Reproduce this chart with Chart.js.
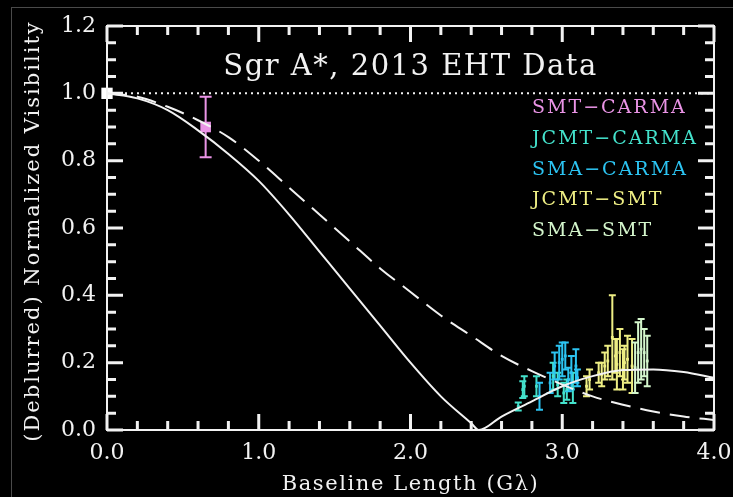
<!DOCTYPE html>
<html>
<head>
<meta charset="utf-8">
<script src="https://cdn.jsdelivr.net/npm/chart.js@4.4.1/dist/chart.umd.min.js"></script>
<style>
    html, body { margin: 0; padding: 0; background: #000; overflow: hidden; }
    #wrap { position: relative; width: 733px; height: 497px; background: #000; overflow: hidden; }
    #frame { position: absolute; left: 11px; top: 7px; width: 800px; height: 600px; border: 1px solid #4a4a4a; }
    canvas { position: absolute; left: 0; top: 0; }
</style>
</head>
<body>
<div id="wrap">
    <div id="frame"></div>
    <canvas id="chartEHT" width="733" height="497"></canvas>
</div>
<script>
// ===========================================
// Sgr A*, 2013 EHT Data - visibilidade normalizada x baseline
// ===========================================

// Modelos
const solidX = [0, 0.2, 0.4, 0.6, 0.8, 1.0, 1.2, 1.4, 1.6, 1.8, 2.0, 2.2, 2.4, 2.45, 2.6, 2.8, 3.0, 3.2, 3.4, 3.6, 3.8, 4.0];
const solidY = [1.00, 0.985, 0.95, 0.89, 0.82, 0.74, 0.64, 0.53, 0.42, 0.31, 0.20, 0.10, 0.02, 0.0, 0.04, 0.085, 0.13, 0.16, 0.178, 0.18, 0.172, 0.155];

const dashX = [0, 0.2, 0.4, 0.6, 0.8, 1.0, 1.2, 1.4, 1.6, 1.8, 2.0, 2.2, 2.4, 2.6, 2.8, 3.0, 3.2, 3.4, 3.6, 3.8, 4.0];
const dashY = [1.00, 0.99, 0.96, 0.92, 0.87, 0.80, 0.72, 0.64, 0.56, 0.48, 0.41, 0.34, 0.28, 0.22, 0.175, 0.135, 0.10, 0.075, 0.055, 0.04, 0.03];

const unityX = [0, 4.0];
const unityY = [1.0, 1.0];

// Ponto de baseline zero
const zeroX = [0];
const zeroY = [1.0];

// Dados por baseline
const smtCarmaX = [0.65];
const smtCarmaY = [0.90];
const smtCarmaErr = [0.09];

const jcmtCarmaX = [2.71, 2.74, 2.75, 2.83, 2.94, 2.97, 3.01, 3.03, 3.07];
const jcmtCarmaY = [0.07, 0.12, 0.13, 0.13, 0.16, 0.135, 0.11, 0.12, 0.125];
const jcmtCarmaErr = [0.012, 0.025, 0.03, 0.03, 0.04, 0.035, 0.03, 0.03, 0.045];

const smaCarmaX = [2.85, 2.92, 2.95, 2.98, 3.00, 3.02, 3.04, 3.06, 3.09, 3.10];
const smaCarmaY = [0.10, 0.14, 0.19, 0.20, 0.21, 0.22, 0.15, 0.17, 0.19, 0.155];
const smaCarmaErr = [0.04, 0.03, 0.04, 0.05, 0.05, 0.04, 0.035, 0.05, 0.05, 0.025];

const jcmtSmtX = [3.16, 3.18, 3.24, 3.26, 3.28, 3.30, 3.33, 3.35, 3.36, 3.38, 3.40, 3.41, 3.43, 3.46];
const jcmtSmtY = [0.13, 0.15, 0.17, 0.165, 0.19, 0.205, 0.275, 0.22, 0.195, 0.23, 0.18, 0.20, 0.21, 0.19];
const jcmtSmtErr = [0.03, 0.03, 0.03, 0.035, 0.04, 0.045, 0.125, 0.05, 0.075, 0.07, 0.06, 0.05, 0.07, 0.08];

const smaSmtX = [3.48, 3.50, 3.52, 3.54, 3.56];
const smaSmtY = [0.185, 0.23, 0.24, 0.23, 0.205];
const smaSmtErr = [0.075, 0.09, 0.09, 0.07, 0.075];

const seriesNames = ['SMT\u2212CARMA', 'JCMT\u2212CARMA', 'SMA\u2212CARMA', 'JCMT\u2212SMT', 'SMA\u2212SMT'];
const seriesColors = ['#ea94e6', '#44e2cc', '#2cc4f2', '#eeee84', '#d4f6cc'];

// ticks: principais com rótulo, secundários só marca
const xTickValues = [0, 1, 2, 3, 4];
const yTickValues = [0, 0.2, 0.4, 0.6, 0.8, 1.0, 1.2];
const xMinorTicks = [0.2, 0.4, 0.6, 0.8, 1.2, 1.4, 1.6, 1.8, 2.2, 2.4, 2.6, 2.8, 3.2, 3.4, 3.6, 3.8];
const yMinorTicks = [0.05, 0.1, 0.15, 0.25, 0.3, 0.35, 0.45, 0.5, 0.55, 0.65, 0.7, 0.75, 0.85, 0.9, 0.95, 1.05, 1.1, 1.15];

const chartTitle = 'Sgr A*, 2013 EHT Data';
const xTitle = 'Baseline Length (G\u03bb)';
const yTitle = '(Deblurred) Normalized Visibility';

const SERIF = '"DejaVu Serif", "Liberation Serif", serif';
const FG = '#f2f2f2';

const pts = (xs, ys) => xs.map((x, i) => ({ x, y: ys[i] }));

function errSet(label, xs, ys, errs, color, size) {
    return {
        label,
        data: pts(xs, ys),
        errors: errs,
        showLine: false,
        pointStyle: 'rect',
        pointRadius: size,
        backgroundColor: color,
        borderColor: color,
        borderWidth: 0,
        errColor: color
    };
}

// ============================
// Plugin: marcas dos eixos + barras de erro (antes dos datasets)
// ============================
const errorBarsPlugin = {
    id: 'errorBars',
    beforeDatasetsDraw(chart) {
        const { ctx, scales, chartArea: a } = chart;
        ctx.save();
        ctx.setLineDash([]);

        // marcas internas nos quatro lados
        ctx.strokeStyle = FG;
        ctx.lineWidth = 3;
        ctx.beginPath();
        xTickValues.concat(xMinorTicks).forEach(v => {
            const len = xTickValues.includes(v) ? 16 : 9;
            const px = scales.x.getPixelForValue(v);
            ctx.moveTo(px, a.bottom); ctx.lineTo(px, a.bottom - len);
            ctx.moveTo(px, a.top); ctx.lineTo(px, a.top + len);
        });
        yTickValues.concat(yMinorTicks).forEach(v => {
            const len = yTickValues.includes(v) ? 16 : 9;
            const py = scales.y.getPixelForValue(v);
            ctx.moveTo(a.left, py); ctx.lineTo(a.left + len, py);
            ctx.moveTo(a.right, py); ctx.lineTo(a.right - len, py);
        });
        ctx.stroke();

        chart.data.datasets.forEach(ds => {
            if (!ds.errors) return;
            ctx.strokeStyle = ds.errColor;
            ctx.lineWidth = 2;
            ds.data.forEach((p, i) => {
                const e = ds.errors[i];
                const px = scales.x.getPixelForValue(p.x);
                const top = scales.y.getPixelForValue(p.y + e);
                const bot = scales.y.getPixelForValue(p.y - e);
                const cap = ds.pointRadius > 4 ? 6 : 3.5;
                ctx.beginPath();
                ctx.moveTo(px, top); ctx.lineTo(px, bot);
                ctx.moveTo(px - cap, top); ctx.lineTo(px + cap, top);
                ctx.moveTo(px - cap, bot); ctx.lineTo(px + cap, bot);
                ctx.stroke();
            });
        });
        ctx.restore();
    }
};

// ============================
// Plugin: moldura, título, legenda e títulos dos eixos
// ============================
const frameTextPlugin = {
    id: 'frameText',
    afterDraw(chart) {
        const { ctx, chartArea: a } = chart;
        ctx.save();
        ctx.setLineDash([]);
        ctx.strokeStyle = FG;
        ctx.fillStyle = FG;
        ctx.lineWidth = 2;
        ctx.strokeRect(a.left, a.top, a.right - a.left, a.bottom - a.top);

        // título
        ctx.textBaseline = 'middle';
        ctx.textAlign = 'center';
        ctx.font = '29px ' + SERIF;
        ctx.letterSpacing = '1.5px';
        ctx.fillText(chartTitle, (a.left + a.right) / 2, a.top + 41);

        // títulos dos eixos
        ctx.font = '21px ' + SERIF;
        ctx.letterSpacing = '1.6px';
        ctx.fillText(xTitle, (a.left + a.right) / 2, a.bottom + 55);
        ctx.save();
        ctx.translate(34, (a.top + a.bottom) / 2 + 3);
        ctx.rotate(-Math.PI / 2);
        ctx.letterSpacing = '2px';
        ctx.fillText(yTitle, 0, 0);
        ctx.restore();

        // legenda
        ctx.font = '19px ' + SERIF;
        ctx.letterSpacing = '2px';
        ctx.textAlign = 'left';
        seriesNames.forEach((name, i) => {
            ctx.fillStyle = seriesColors[i];
            ctx.fillText(name, a.right - 182, a.top + 82 + i * 30.8);
        });
        ctx.restore();
    }
};

const ctx = document.getElementById('chartEHT');
new Chart(ctx.getContext('2d'), {
    type: 'scatter',
    data: {
        datasets: [
            {
                label: 'unity',
                data: pts(unityX, unityY),
                showLine: true,
                borderColor: FG,
                borderWidth: 2,
                borderDash: [2, 4],
                pointRadius: 0
            },
            {
                label: 'modelo',
                data: pts(solidX, solidY),
                showLine: true,
                borderColor: FG,
                borderWidth: 2,
                cubicInterpolationMode: 'monotone',
                pointRadius: 0
            },
            {
                label: 'gaussiana',
                data: pts(dashX, dashY),
                showLine: true,
                borderColor: FG,
                borderWidth: 2,
                borderDash: [20, 10],
                cubicInterpolationMode: 'monotone',
                pointRadius: 0
            },
            errSet(seriesNames[1], jcmtCarmaX, jcmtCarmaY, jcmtCarmaErr, seriesColors[1], 2),
            errSet(seriesNames[2], smaCarmaX, smaCarmaY, smaCarmaErr, seriesColors[2], 2),
            errSet(seriesNames[3], jcmtSmtX, jcmtSmtY, jcmtSmtErr, seriesColors[3], 2),
            errSet(seriesNames[4], smaSmtX, smaSmtY, smaSmtErr, seriesColors[4], 2),
            errSet(seriesNames[0], smtCarmaX, smtCarmaY, smtCarmaErr, seriesColors[0], 7.5),
            {
                label: 'zero',
                data: pts(zeroX, zeroY),
                showLine: false,
                pointStyle: 'rect',
                pointRadius: 8,
                backgroundColor: '#ffffff',
                borderWidth: 0,
                clip: false
            }
        ]
    },
    options: {
        responsive: false,
        animation: false,
        layout: { padding: { left: 0, top: 26, right: 19, bottom: 0 } },
        plugins: {
            legend: { display: false },
            tooltip: { enabled: false }
        },
        scales: {
            x: {
                type: 'linear',
                min: 0,
                max: 4,
                afterFit: s => { s.height = 67; s.paddingLeft = 0; s.paddingRight = 0; },
                afterBuildTicks: s => { s.ticks = xTickValues.map(v => ({ value: v })); },
                grid: { display: false, drawTicks: false },
                border: { display: false },
                ticks: {
                    color: FG,
                    padding: 10,
                    font: { family: SERIF, size: 22 },
                    callback: v => v.toFixed(1)
                }
            },
            y: {
                type: 'linear',
                min: 0,
                max: 1.2,
                afterFit: s => { s.width = 107; s.paddingTop = 0; s.paddingBottom = 0; },
                afterBuildTicks: s => { s.ticks = yTickValues.map(v => ({ value: v })); },
                grid: { display: false, drawTicks: false },
                border: { display: false },
                ticks: {
                    color: FG,
                    padding: 11,
                    font: { family: SERIF, size: 22 },
                    callback: v => v.toFixed(1)
                }
            }
        }
    },
    plugins: [errorBarsPlugin, frameTextPlugin]
});
</script>
</body>
</html>
